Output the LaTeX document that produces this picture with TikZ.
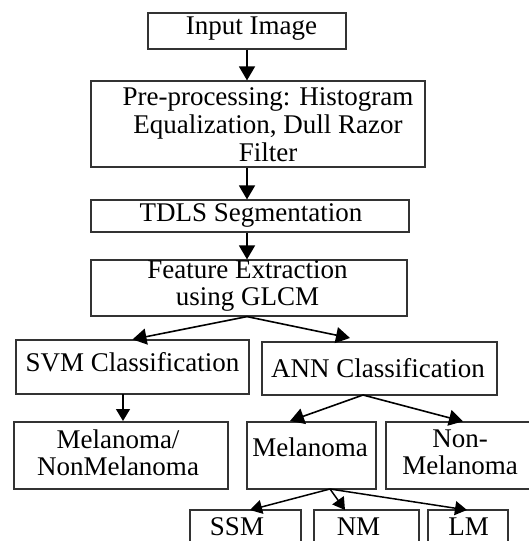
\documentclass[tikz,border=0pt]{standalone}
\usepackage{fontspec}
\setmainfont{Liberation Serif}
\usetikzlibrary{arrows.meta}
\begin{document}
\begin{tikzpicture}[x=1pt,y=-1pt,
  box/.style={draw=black!80,line width=1.2pt,inner sep=0pt,anchor=center},
  txt/.style={font=\fontsize{27}{28}\selectfont,inner sep=0pt,align=center,anchor=center},
  arr/.style={draw=black,line width=1.6pt,-{Triangle[length=14pt,width=16pt]}},
  sarr/.style={draw=black,line width=1.5pt,-{Triangle[length=12pt,width=14pt]}}]
\useasboundingbox (0,0) rectangle (529,541);
% boxes
\node[box,minimum width=198pt,minimum height=36pt] (inp) at (247,31) {};
\node[box,minimum width=334pt,minimum height=86pt] (pre) at (258,124) {};
\node[box,minimum width=318pt,minimum height=32pt] (tdls) at (250,216) {};
\node[box,minimum width=316pt,minimum height=56pt] (feat) at (249,288) {};
\node[box,minimum width=233pt,minimum height=54pt] (svm) at (132.5,367) {};
\node[box,minimum width=235pt,minimum height=53pt] (ann) at (379.5,368.5) {};
\node[box,minimum width=214pt,minimum height=67pt] (melnon) at (121,455.5) {};
\node[box,minimum width=129pt,minimum height=67pt] (mel) at (311.5,455.5) {};
\node[box,minimum width=154pt,minimum height=67pt] (nonmel) at (463,455.5) {};
\node[box,minimum width=111pt,minimum height=50pt] (ssm) at (245.5,535) {};
\node[box,minimum width=105pt,minimum height=50pt] (nm) at (366.5,535) {};
\node[box,minimum width=80pt,minimum height=50pt] (lm) at (468,535) {};
% texts
\node[txt] (tinp) at (251.5,29) {Input Image};
\node[txt] (tpre) at (268,125) {Pre-processing: Histogram\\Equalization, Dull Razor\\Filter};
\node[txt] (ttdls) at (251,215) {TDLS Segmentation};
\node[txt,font=\fontsize{27}{27}\selectfont] (tfeat) at (247.5,286) {Feature Extraction\\using GLCM};
\node[txt] (tsvm) at (132.5,362) {SVM Classification};
\node[txt] (tann) at (378,368) {ANN Classification};
\node[txt,font=\fontsize{27}{27}\selectfont] (tmelnon) at (118,453) {Melanoma/\\NonMelanoma};
\node[txt] (tmel) at (310,447) {Melanoma};
\node[txt,font=\fontsize{27}{27}\selectfont] (tnonmel) at (460,452) {Non-\\Melanoma};
\node[txt] (tssm) at (237,527) {SSM};
\node[txt] (tnm) at (358.5,527) {NM};
\node[txt] (tlm) at (468.5,527) {LM};
% connector points
\coordinate (annin) at (350,338);
\coordinate (annout) at (363,395);
\coordinate (melout) at (330,489);
\coordinate (svmout) at (123,394);
\coordinate (melnonin) at (123,421);
\coordinate (melin) at (290,421);
\coordinate (ssmin) at (250,510);
\coordinate (nmin) at (345,510);
\coordinate (lmin) at (467,510);
% connectors
\draw[arr] (inp.south) -- (pre.north -| inp.south);
\draw[arr] (pre.south -| inp.south) -- (tdls.north -| inp.south);
\draw[arr] (tdls.south -| inp.south) -- (feat.north -| inp.south);
\draw[arr] (feat.south -| inp.south) -- (svm.north);
\draw[arr] (feat.south -| inp.south) -- (annin);
\draw[sarr] (svmout) -- (melnonin);
\draw[arr] (annout) -- (melin);
\draw[arr] (annout) -- (nonmel.north);
\draw[sarr] (melout) -- (ssmin);
\draw[sarr] (melout) -- (nmin);
\draw[sarr] (melout) -- (lmin);
\end{tikzpicture}
\end{document}
